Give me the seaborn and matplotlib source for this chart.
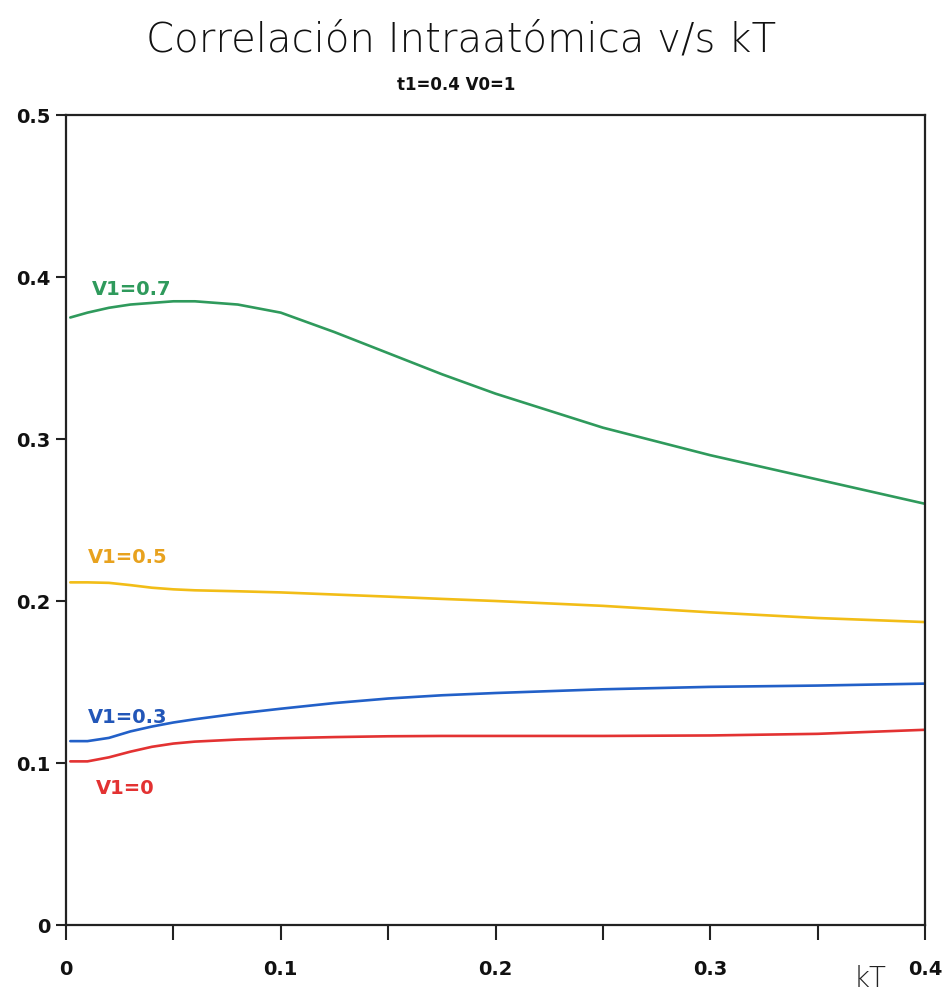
import matplotlib
matplotlib.use("Agg")
import matplotlib.pyplot as plt
import seaborn as sns
import pandas as pd
import numpy as np

kT = [0.002, 0.01, 0.02, 0.03, 0.04, 0.05, 0.06, 0.08, 0.10, 0.125, 0.15, 0.175, 0.20, 0.25, 0.30, 0.35, 0.40]
v07 = [0.375, 0.378, 0.381, 0.383, 0.384, 0.385, 0.385, 0.383, 0.378, 0.366, 0.353, 0.340, 0.328, 0.307, 0.290, 0.275, 0.260]
v05 = [0.2115, 0.2115, 0.2112, 0.2098, 0.2082, 0.2072, 0.2066, 0.2060, 0.2053, 0.2040, 0.2027, 0.2013, 0.2000, 0.1970, 0.1930, 0.1895, 0.1870]
v03 = [0.1135, 0.1135, 0.1155, 0.1195, 0.1225, 0.1250, 0.1270, 0.1305, 0.1335, 0.1370, 0.1398, 0.1418, 0.1432, 0.1455, 0.1470, 0.1478, 0.1490]
v00 = [0.1010, 0.1010, 0.1035, 0.1070, 0.1100, 0.1120, 0.1132, 0.1145, 0.1153, 0.1160, 0.1165, 0.1167, 0.1167, 0.1167, 0.1170, 0.1180, 0.1205]
series_names = ["V1=0.7", "V1=0.5", "V1=0.3", "V1=0"]
colors = ["#2f9a5c", "#f2bd17", "#2260c8", "#e33232"]
label_colors = ["#2f9a5c", "#e8a21e", "#2256b8", "#e33232"]
label_pos = [(0.012, 0.392), (0.010, 0.227), (0.010, 0.128), (0.014, 0.084)]
x_ticks = [0, 0.1, 0.2, 0.3, 0.4]
x_labels = ["0", "0.1", "0.2", "0.3", "0.4"]
y_ticks = [0, 0.1, 0.2, 0.3, 0.4, 0.5]
y_labels = ["0", "0.1", "0.2", "0.3", "0.4", "0.5"]

df = pd.concat([
    pd.DataFrame({"kT": kT, "C": vals, "serie": name})
    for name, vals in zip(series_names, [v07, v05, v03, v00])
])

sns.set_theme(style="white")
plt.rcParams['font.family'] = ['DejaVu Sans']

fig = plt.figure(figsize=(9.46, 9.97), dpi=100)
ax = fig.add_axes([66/946, 1-925/997, (925-66)/946, (925-115)/997])
sns.lineplot(data=df, x="kT", y="C", hue="serie", palette=dict(zip(series_names, colors)),
             ax=ax, legend=False, linewidth=1.9)

ax.set_xlim(0, 0.4)
ax.set_ylim(0, 0.5)
ax.set_xticks(x_ticks)
ax.set_xticklabels(x_labels)
ax.set_xticks(np.arange(0.05, 0.4, 0.1), minor=True)
ax.set_yticks(y_ticks)
ax.set_yticklabels(y_labels)
ax.tick_params(axis="x", which="both", direction="out", length=11, width=1.5, color="#222222",
               bottom=True, pad=14, labelsize=14)
ax.tick_params(axis="y", which="both", direction="out", length=7, width=1.5, color="#222222",
               left=True, pad=4, labelsize=14)
for lab in ax.get_xticklabels() + ax.get_yticklabels():
    lab.set_fontweight("heavy")
    lab.set_color("#111111")
for s in ax.spines.values():
    s.set_color("#222222")
    s.set_linewidth(1.6)
ax.set_xlabel("")
ax.set_ylabel("")

for name, c, (lx, ly) in zip(series_names, label_colors, label_pos):
    ax.text(lx, ly, name, color=c, fontsize=14, fontweight="bold",
            ha="left", va="center")

fig.text(0.487, 1-40/997, "Correlación Intraatómica v/s kT", ha="center", va="center",
         fontsize=29, fontweight="light", color="#111111")
fig.text(0.482, 1-85/997, "t1=0.4 V0=1", ha="center", va="center",
         fontsize=12, fontweight="bold", color="#111111")
fig.text(870/946, 1-979/997, "kT", ha="center", va="center", fontsize=20,
         fontweight="light", color="#222222")

fig.savefig("out.png", dpi=100, facecolor="white")
